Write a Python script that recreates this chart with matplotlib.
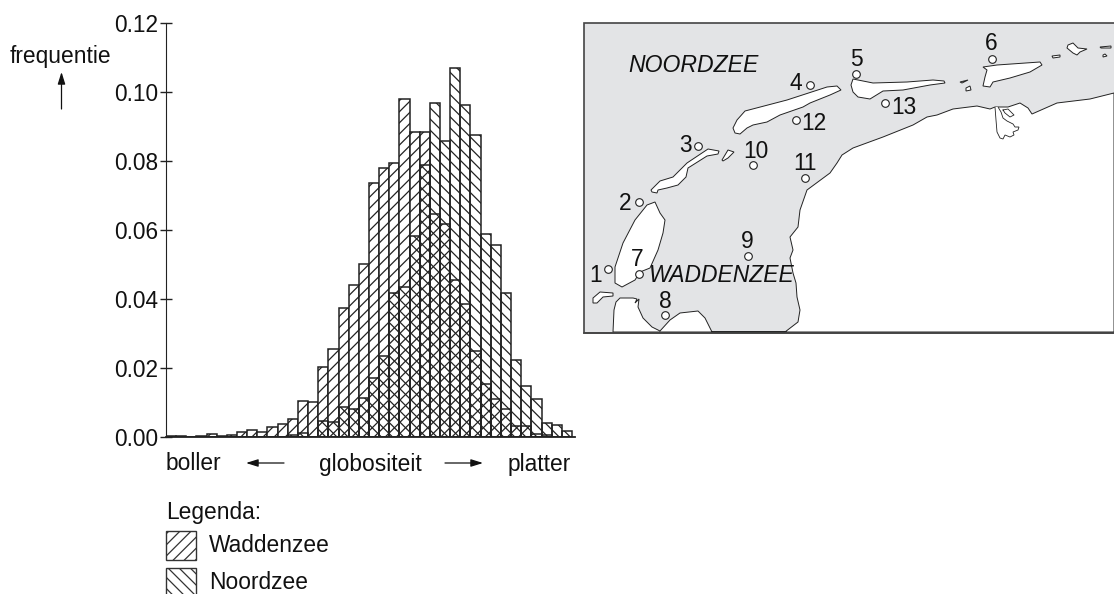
import matplotlib
matplotlib.use("Agg")
import matplotlib.pyplot as plt
from matplotlib.patches import Polygon, Rectangle

plt.rcParams['font.family'] = ['Liberation Sans', 'DejaVu Sans']
plt.rcParams['hatch.linewidth'] = 0.9

# bar heights per bin
waddenzee = [.0003, .0003, 0, .0003, .0008, .0003, .0004, .0013, .0018, .0013,
             .0029, .0038, .0051, .0105, .0100, .0201, .0256, .0374, .0439, .0501,
             .0736, .0781, .0794, .0980, .0884, .0884, .0646, .0616, .0454, .0385,
             .0250, .0153, .0109, .0081, .0031, .0031, .0007, .0005, 0, 0]
noordzee = [0, 0, 0, 0, 0, 0, 0, 0, 0, 0,
            0, 0, .0006, .0012, 0, .0046, .0042, .0087, .0080, .0111,
            .0170, .0233, .0417, .0434, .0583, .0788, .0969, .0857, .1069, .0963,
            .0875, .0587, .0557, .0417, .0222, .0146, .0109, .0040, .0035, .0016]
y_ticks = [0.00, 0.02, 0.04, 0.06, 0.08, 0.10, 0.12]

# map outlines, in picture pixels
mainland = [(613, 332), (614, 310), (616, 302), (620, 298), (633, 298), (637, 299), (635, 303), (639, 299),
            (638, 307), (643, 318), (652, 327), (660, 331), (670, 320), (680, 313), (698, 311), (705, 318),
            (712, 332), (785, 332), (798, 322), (800, 310), (797, 297), (796, 283), (793, 273), (790, 258),
            (793, 250), (790, 237), (798, 227), (800, 210), (807, 190), (830, 173), (837, 163), (842, 155),
            (853, 148), (883, 137), (913, 125), (927, 117), (937, 115), (953, 109), (977, 106), (990, 109),
            (995, 107), (1008, 107), (1020, 103), (1028, 108), (1032, 114), (1057, 103), (1090, 99), (1114, 93),
            (1114, 332)]
bay = [(995, 107), (996, 120), (997, 132), (1000, 138), (1003, 139), (1005, 135), (1010, 137), (1014, 135),
       (1013, 132), (1018, 130), (1019, 127), (1015, 127), (1013, 124), (1007, 121), (1003, 118), (1001, 112),
       (998, 107)]
bay_inner = [(1003, 110), (1008, 109), (1014, 115), (1010, 117), (1005, 113), (1003, 110)]
islands = [
    [(655, 202), (660, 213), (665, 220), (663, 233), (658, 250), (650, 268), (640, 272), (635, 280),
     (622, 287), (615, 283), (615, 267), (623, 243), (635, 220), (647, 205)],
    [(593, 303), (593, 298), (600, 292), (613, 293), (613, 296), (603, 297), (597, 303)],
    [(651, 190), (660, 181), (673, 177), (687, 163), (708, 149), (719, 151), (718, 154), (707, 156),
     (688, 168), (686, 177), (678, 185), (667, 188), (658, 190), (657, 193), (652, 192)],
    [(722, 160), (728, 150), (734, 152), (728, 158), (723, 161)],
    [(733, 128), (737, 120), (745, 111), (787, 100), (827, 87), (837, 86), (841, 90), (830, 95),
     (810, 103), (803, 107), (780, 115), (767, 122), (753, 125), (747, 128), (740, 134), (735, 133)],
    [(851, 85), (853, 79), (873, 83), (907, 82), (933, 80), (944, 81), (945, 83), (930, 85),
     (903, 90), (883, 91), (870, 99), (858, 97), (853, 92)],
    [(960, 82), (968, 80), (962, 83)],
    [(966, 88), (970, 86), (971, 90), (966, 91)],
    [(983, 67), (997, 65), (1040, 62), (1042, 65), (1030, 72), (1010, 78), (993, 82), (990, 87),
     (983, 86), (985, 77), (987, 70)],
    [(1052, 56), (1060, 55), (1060, 57), (1053, 58)],
    [(1068, 45), (1073, 43), (1078, 48), (1087, 49), (1080, 52), (1077, 55), (1073, 53), (1067, 48)],
    [(1100, 47), (1111, 46), (1111, 48), (1101, 48)],
    [(1103, 55), (1105, 54), (1107, 56), (1103, 57)],
]
stations_x = [608, 639, 698, 810, 856, 992, 639, 665, 748, 753, 805, 796, 885]
stations_y = [269, 202, 146, 85, 74, 59, 274, 315, 256, 165, 178, 120, 103]
station_labels = ['1', '2', '3', '4', '5', '6', '7', '8', '9', '10', '11', '12', '13']
label_x = [596, 625, 685, 796, 856, 991, 637, 665, 747, 756, 805, 814, 904]
label_y = [276, 203, 146, 84, 59, 43, 259, 301, 242, 151, 163, 123, 108]

W, H = 1114, 594
fig = plt.figure(figsize=(11.14, 5.94), dpi=100)

# histogram
ax = fig.add_axes([166 / W, 1 - 436.7 / H, 409 / W, 413.4 / H])
bins = list(range(len(waddenzee)))
ax.bar(bins, waddenzee, width=1, align='edge', facecolor='white', edgecolor='#222222',
       linewidth=1.1, hatch='///')
ax.bar(bins, noordzee, width=1, align='edge', facecolor='none', edgecolor='#222222',
       linewidth=1.1, hatch='\\\\\\')
ax.set_xlim(0, 40.3)
ax.set_ylim(0, 0.12)
ax.set_xticks([])
ax.set_yticks(y_ticks)
ax.set_yticklabels([f"{v:.2f}" for v in y_ticks], fontsize=16.3, color='#111111')
ax.tick_params(axis='y', direction='inout', length=8, width=1.0, color='#222222', pad=1.5)
ax.spines['top'].set_visible(False)
ax.spines['right'].set_visible(False)
ax.spines['left'].set_color('#222222')
ax.spines['bottom'].set_color('#222222')
ax.spines['bottom'].set_linewidth(1.3)

# everything else goes on a full figure layer in picture pixels
pg = fig.add_axes([0, 0, 1, 1], zorder=-1)
top = fig.add_axes([0, 0, 1, 1], zorder=5)
for a in (pg, top):
    a.set_xlim(0, W)
    a.set_ylim(H, 0)
    a.axis('off')
    a.patch.set_alpha(0)

# map
pg.add_patch(Rectangle((583.5, 23), 540, 310, facecolor='#e3e4e6', edgecolor='#444444', linewidth=1.2))
pg.add_patch(Polygon(mainland, closed=True, facecolor='white', edgecolor='#222222', linewidth=0.7))
pg.add_patch(Polygon(bay, closed=False, facecolor='white', edgecolor='#222222', linewidth=0.6))
pg.plot(*zip(*bay_inner), color='#222222', lw=0.6)
for shape in islands:
    pg.add_patch(Polygon(shape, closed=True, facecolor='white', edgecolor='#222222', linewidth=0.7))
pg.plot([583.5, 1114], [333, 333], color='#444444', lw=1.2)
pg.plot(stations_x, stations_y, 'o', ms=5.5, mfc='white', mec='#222222', mew=0.8, zorder=4)
for s, x, y in zip(station_labels, label_x, label_y):
    pg.text(x, y, s, fontsize=16.4, ha='center', va='center', color='#111111', zorder=5)
pg.text(628, 66, 'NOORDZEE', fontsize=16.6, style='italic', ha='left', va='center', color='#111111')
pg.text(648, 276, 'WADDENZEE', fontsize=16.5, style='italic', ha='left', va='center', color='#111111', zorder=5)

# labels and arrows
top.text(10, 56, 'frequentie', fontsize=16.4, ha='left', va='center', color='#111111')
top.text(166, 464, 'boller', fontsize=16.4, ha='left', va='center', color='#111111')
top.text(319, 464, 'globositeit', fontsize=16.4, ha='left', va='center', color='#111111')
top.text(508, 464, 'platter', fontsize=16.4, ha='left', va='center', color='#111111')
arrow = dict(arrowstyle='-|>,head_length=0.8,head_width=0.25', color='#111111', lw=0.9,
             mutation_scale=9, shrinkA=0, shrinkB=0)
top.annotate('', xy=(61.5, 72), xytext=(61.5, 109), arrowprops=arrow)
top.annotate('', xy=(246, 463), xytext=(284, 463), arrowprops=arrow)
top.annotate('', xy=(483, 463), xytext=(445, 463), arrowprops=arrow)

# legend
top.text(166, 513, 'Legenda:', fontsize=16.4, ha='left', va='center', color='#111111')
top.add_patch(Rectangle((166, 531), 30, 29, facecolor='white', edgecolor='#333333', linewidth=1.0, hatch='///'))
top.add_patch(Rectangle((166, 568), 30, 29, facecolor='white', edgecolor='#333333', linewidth=1.0, hatch='\\\\\\'))
top.text(209, 546, 'Waddenzee', fontsize=16.4, ha='left', va='center', color='#111111')
top.text(209, 589, 'Noordzee', fontsize=16.4, ha='left', va='baseline', color='#111111')

fig.savefig('out.png', dpi=100)
